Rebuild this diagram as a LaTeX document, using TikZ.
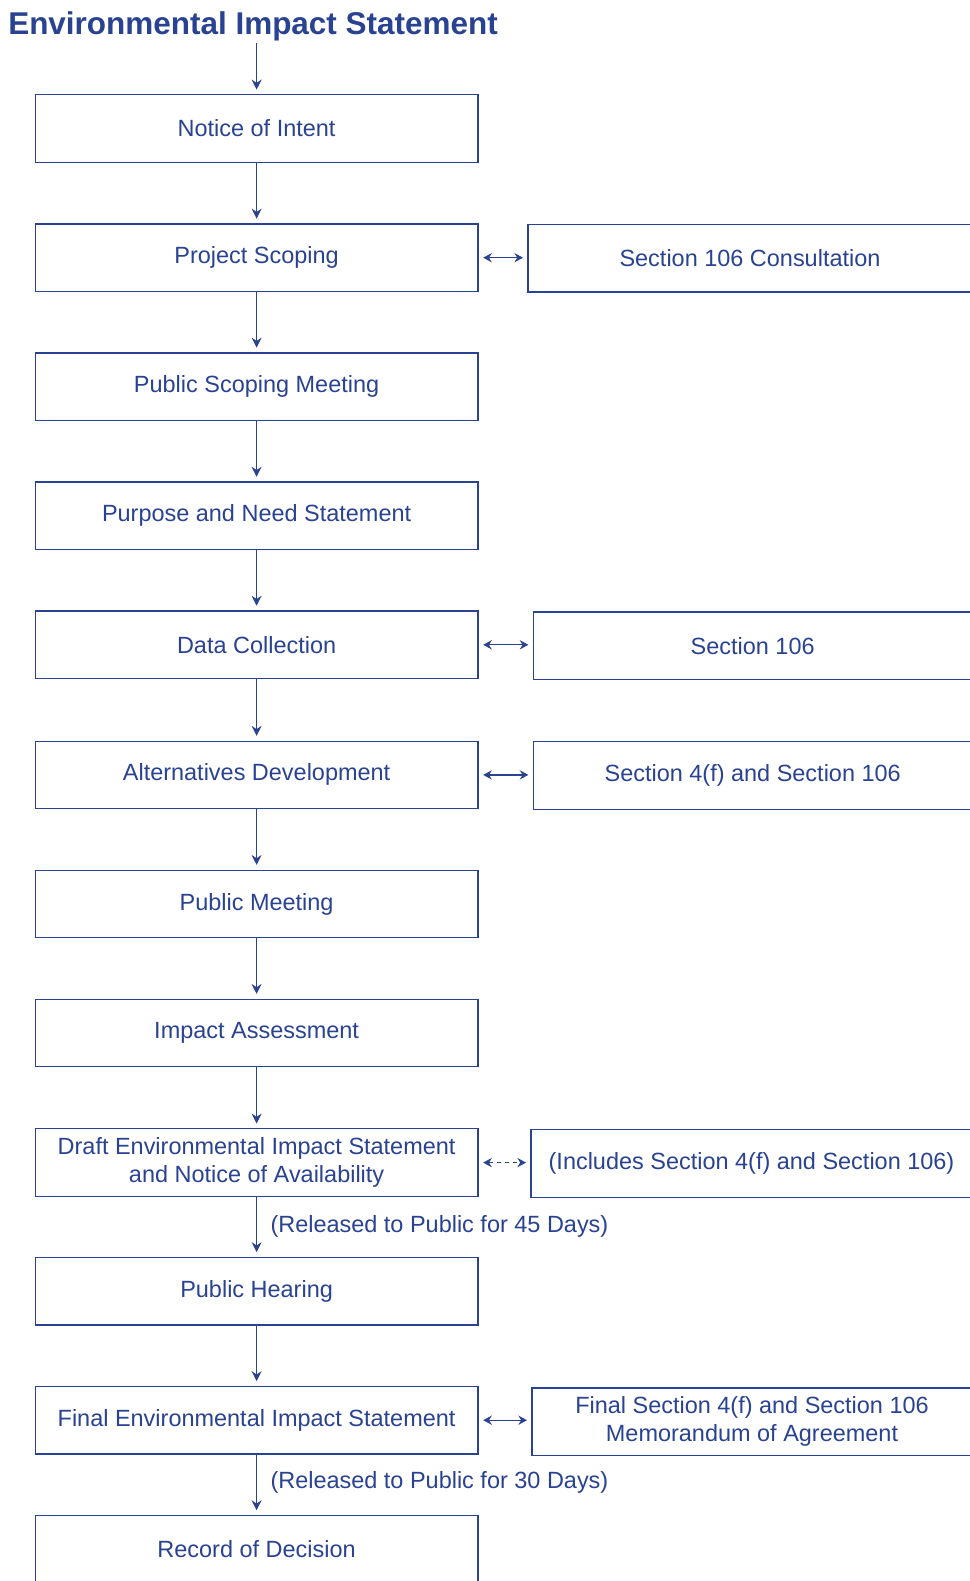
\documentclass[tikz,border=0pt]{standalone}
\usepackage{fontspec}
\setmainfont{Liberation Sans}
\usetikzlibrary{arrows.meta}
\definecolor{eisblue}{RGB}{41,66,146}
\begin{document}
\begin{tikzpicture}[x=0.75pt, y=-0.75pt,
    stage/.style ={rectangle, draw=eisblue, line width=0.9pt, text=eisblue, minimum width=332pt, minimum height=50.7pt, inner sep=0pt, align=center, font=\fontsize{17.6}{21.2}\selectfont},
    flow/.style ={draw=eisblue, line width=0.9pt, -{Stealth[length=7.5pt,width=7.5pt,inset=2.5pt]}, shorten >=3.5pt},
    link/.style ={draw=eisblue, line width=0.9pt, {Stealth[length=6.5pt,width=7pt,inset=2.2pt]}-{Stealth[length=6.5pt,width=7pt,inset=2.2pt]}, shorten >=3.3pt, shorten <=3.5pt},
    note/.style ={text=eisblue, inner sep=0pt, font=\fontsize{17.6}{21.2}\selectfont}]
   \useasboundingbox (0,0) rectangle (970,1581);
   \clip (0,0) rectangle (970,1581);
   \node[anchor=base west, text=eisblue, inner sep=0pt, font=\fontsize{23.6}{28}\selectfont\bfseries] (title) at (8,34.3) {Environmental Impact Statement};
   \coordinate (start) at (256.6,43.4);
   % main column
   \node[stage] (notice)   at (256.6,128.6)  {Notice of Intent};
   \node[stage] (scoping)  at (256.6,257.7)  {Project Scoping};
   \node[stage] (meeting)  at (256.6,386.7)  {Public Scoping Meeting};
   \node[stage] (purpose)  at (256.6,515.8)  {Purpose and Need Statement};
   \node[stage] (data)     at (256.6,644.8)  {Data Collection};
   \node[stage] (alts)     at (256.6,774.9)  {Alternatives Development};
   \node[stage] (pubmeet)  at (256.6,904)    {Public Meeting};
   \node[stage] (impact)   at (256.6,1033)   {Impact Assessment};
   \node[stage] (draft)    at (256.6,1162.6) {Draft Environmental Impact Statement\\and Notice of Availability};
   \node[stage] (hearing)  at (256.6,1291.2) {Public Hearing};
   \node[stage] (final)    at (256.6,1420.2) {Final Environmental Impact Statement};
   \node[stage] (record)   at (256.6,1549.3) {Record of Decision};
   % side column
   \node[stage, minimum width=333pt]   (consult) at (750,258.2)    {Section 106 Consultation};
   \node[stage, minimum width=329pt]   (sec106)  at (752.7,645.8)  {Section 106};
   \node[stage, minimum width=329pt]   (sec4f)   at (752.7,775.4)  {Section 4(f) and Section 106};
   \node[stage, minimum width=330.75pt] (incl)   at (751.5,1163.5) {(Includes Section 4(f) and Section 106)};
   \node[stage, minimum width=330pt]   (moa)     at (752,1421.7)   {Final Section 4(f) and Section 106\\Memorandum of Agreement};
   % connectors
   \draw[flow] (start) -- (notice);
   \draw[flow] (notice) -- (scoping);
   \draw[flow] (scoping) -- (meeting);
   \draw[flow] (meeting) -- (purpose);
   \draw[flow] (purpose) -- (data);
   \draw[flow] (data) -- (alts);
   \draw[flow] (alts) -- (pubmeet);
   \draw[flow] (pubmeet) -- (impact);
   \draw[flow] (impact) -- (draft);
   \draw[flow] (draft) -- node[note, anchor=west, xshift=10pt] (days45) {(Released to Public for 45 Days)} (hearing);
   \draw[flow] (hearing) -- (final);
   \draw[flow] (final) -- node[note, anchor=west, xshift=10pt, yshift=1.5pt] (days30) {(Released to Public for 30 Days)} (record);
   \draw[link] (scoping.east) -- (scoping.east -| consult.west);
   \draw[link] (data.east) -- (data.east -| sec106.west);
   \draw[link] (alts.east) -- (alts.east -| sec4f.west);
   \draw[link, dash pattern=on 3pt off 3pt] (draft.east) -- (draft.east -| incl.west);
   \draw[link] (final.east) -- (final.east -| moa.west);
 \end{tikzpicture}
\end{document}
